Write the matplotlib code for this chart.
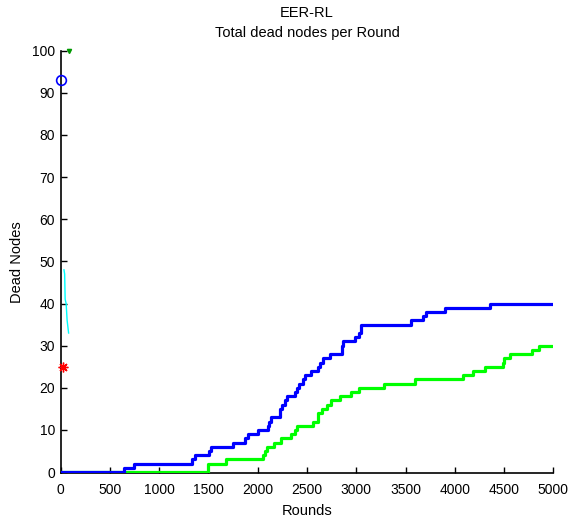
import matplotlib
matplotlib.use('Agg')
import matplotlib.pyplot as plt

plt.rcParams['font.family'] = ['Liberation Sans', 'DejaVu Sans']

# Données
blue_rounds = [0, 640, 740, 1330, 1360, 1510, 1530, 1750, 1870, 1900, 2000, 2100, 2115, 2130,
               2225, 2250, 2275, 2300, 2375, 2400, 2420, 2460, 2480, 2545, 2610, 2630, 2664,
               2732, 2857, 2870, 2986, 3030, 3045, 3053, 3560, 3680, 3712, 3898, 4355, 4990]
blue_dead = [0, 1, 2, 3, 4, 5, 6, 7, 8, 9, 10, 11, 12, 13,
             15, 16, 17, 18, 19, 20, 21, 22, 23, 24, 25, 26, 27,
             28, 30, 31, 32, 33, 34, 35, 36, 37, 38, 39, 40, 40]

green_rounds = [0, 1500, 1680, 2055, 2075, 2090, 2160, 2240, 2340, 2380, 2395, 2565, 2615,
                2650, 2700, 2740, 2835, 2950, 3030, 3285, 3595, 4080, 4190, 4305, 4490, 4500,
                4560, 4785, 4857, 4990]
green_dead = [0, 2, 3, 4, 5, 6, 7, 8, 9, 10, 11, 12, 14,
              15, 16, 17, 18, 19, 20, 21, 22, 23, 24, 25, 26, 27,
              28, 29, 30, 30]

cyan_rounds = [33, 40, 45, 55, 65, 70, 80]
cyan_dead = [48, 47, 41, 40, 36, 35, 33]

circle_pt = (0, 93)
triangle_pt = (85, 100)
star_pt = (20, 25)

fig = plt.figure(figsize=(5.68, 5.19), dpi=100)
ax = fig.add_axes([0.1069, 0.088, 0.8672, 0.8143])

ax.plot(green_rounds, green_dead, drawstyle='steps-post', color=(0, 1, 0), linewidth=2.3, zorder=3)
ax.plot(blue_rounds, blue_dead, drawstyle='steps-post', color=(0, 0, 1), linewidth=2.3, zorder=3)
ax.plot(cyan_rounds, cyan_dead, color='cyan', linewidth=1, zorder=3)
ax.plot(*circle_pt, marker='o', markersize=7, markerfacecolor='none',
        markeredgecolor='blue', markeredgewidth=1.2, clip_on=False, zorder=4)
ax.plot(*triangle_pt, marker='v', markersize=3, color=(0, 0.6, 0), clip_on=False, zorder=4)
ax.plot(*star_pt, marker=(8, 2, 0), markersize=7, color='red', markeredgewidth=1,
        clip_on=False, zorder=4)

ax.set_xlim(0, 5000)
ax.set_ylim(-0.3, 100)  # petite marge pour que la ligne à 0 reste visible au-dessus de l'axe
ax.set_xticks(range(0, 5001, 500))
ax.set_yticks(range(0, 101, 10))
ax.tick_params(direction='in', length=4, labelsize=10, width=1)
ax.tick_params(axis='x', pad=7)
ax.tick_params(axis='y', pad=4)
for s in ['top', 'right']:
    ax.spines[s].set_visible(False)
for s in ['left', 'bottom']:
    ax.spines[s].set_linewidth(1.2)

ax.set_title('EER-RL\nTotal dead nodes per Round', fontsize=10.5, pad=10, linespacing=1.5)
ax.set_xlabel('Rounds', fontsize=10.5, labelpad=5)
ax.set_ylabel('Dead Nodes', fontsize=10.5, labelpad=6)

fig.savefig('out.png', dpi=100)
